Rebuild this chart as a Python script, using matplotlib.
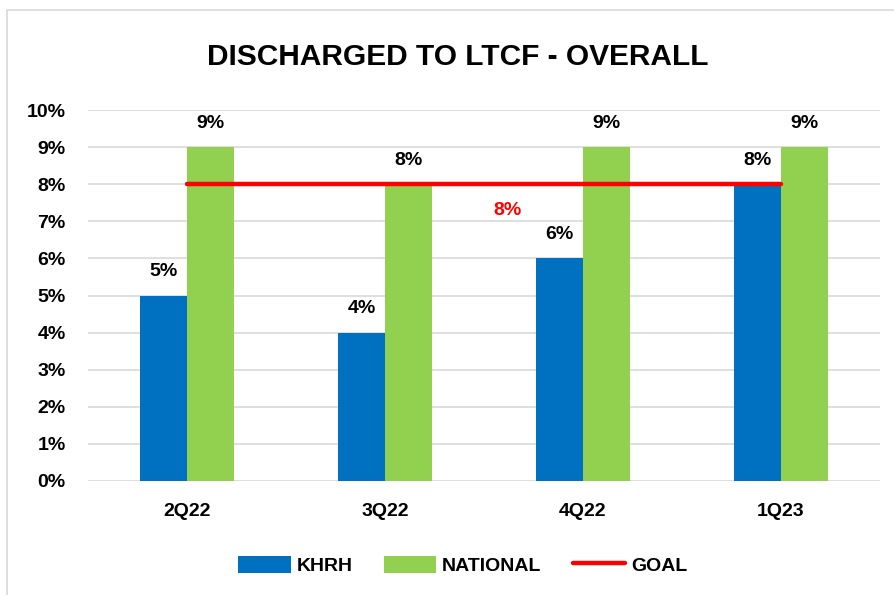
import numpy as np
import matplotlib.pyplot as plt
from matplotlib.patches import Rectangle, Patch
from matplotlib.lines import Line2D
from matplotlib.ticker import FuncFormatter

quarters = ["2Q22", "3Q22", "4Q22", "1Q23"]
khrh = [5, 4, 6, 8]
national = [9, 8, 9, 9]
goal = 8
y_ticks = list(range(0, 11))

BLUE = "#0070C0"
GREEN = "#92D050"
RED = "#FF0000"

plt.rcParams["font.family"] = ["Liberation Sans", "DejaVu Sans"]
plt.rcParams["font.weight"] = "bold"

fig = plt.figure(figsize=(8.95, 5.95), dpi=100)
ax = fig.add_axes([0.0983, 0.1916, 0.8849, 0.6235])

# outer chart border (only left/top visible in reference)
fig.patches.append(Rectangle((7 / 895, -0.05), 1.2, 1 - 10 / 595 + 0.05,
                             transform=fig.transFigure, fill=False,
                             edgecolor="#D9D9D9", linewidth=1.2))

x = np.arange(len(quarters))
w = 0.237
ax.bar(x - w / 2, khrh, width=w, color=BLUE, zorder=2)
ax.bar(x + w / 2, national, width=w, color=GREEN, zorder=2)

ax.plot([x[0], x[-1]], [goal, goal], color=RED, linewidth=3.2,
        solid_capstyle="round", zorder=3)

fs = 14
for xi, v in zip(x, khrh):
    ax.text(xi - w / 2, v + 0.42, f"{v}%", ha="center", va="bottom",
            fontsize=fs, fontweight="bold", color="black")
for xi, v in zip(x, national):
    ax.text(xi + w / 2, v + 0.42, f"{v}%", ha="center", va="bottom",
            fontsize=fs, fontweight="bold", color="black")
ax.text(1.62, goal - 0.7, f"{goal}%", ha="center", va="center",
        fontsize=fs, fontweight="bold", color=RED)

ax.set_xlim(-0.5, len(quarters) - 0.5)
ax.set_ylim(0, 10)
ax.set_yticks(y_ticks)
ax.yaxis.set_major_formatter(FuncFormatter(lambda v, _: f"{v:.0f}%"))
ax.set_xticks(x)
ax.set_xticklabels(quarters)
ax.tick_params(axis="both", length=0, labelsize=fs)
ax.tick_params(axis="y", pad=16)
ax.tick_params(axis="x", pad=16)
for lbl in ax.get_xticklabels() + ax.get_yticklabels():
    lbl.set_fontweight("bold")
for s in ax.spines.values():
    s.set_visible(False)
ax.grid(axis="y", color="#D9D9D9", linewidth=1.2, zorder=0)
ax.set_axisbelow(True)

fig.text(0.512, 0.904, "DISCHARGED TO LTCF - OVERALL", ha="center", va="center",
         fontsize=21.5, fontweight="bold")

handles = [Patch(facecolor=BLUE, label="KHRH"),
           Patch(facecolor=GREEN, label="NATIONAL"),
           Line2D([0], [0], color=RED, linewidth=3.2, solid_capstyle="round", label="GOAL")]
leg = fig.legend(handles=handles, loc="center", bbox_to_anchor=(0.517, 0.05),
                 ncol=3, frameon=False, fontsize=fs, handlelength=2.7,
                 handleheight=1.0, handletextpad=0.3, columnspacing=1.6)
for t in leg.get_texts():
    t.set_fontweight("bold")

fig.savefig("out.png", dpi=100, facecolor="white")
